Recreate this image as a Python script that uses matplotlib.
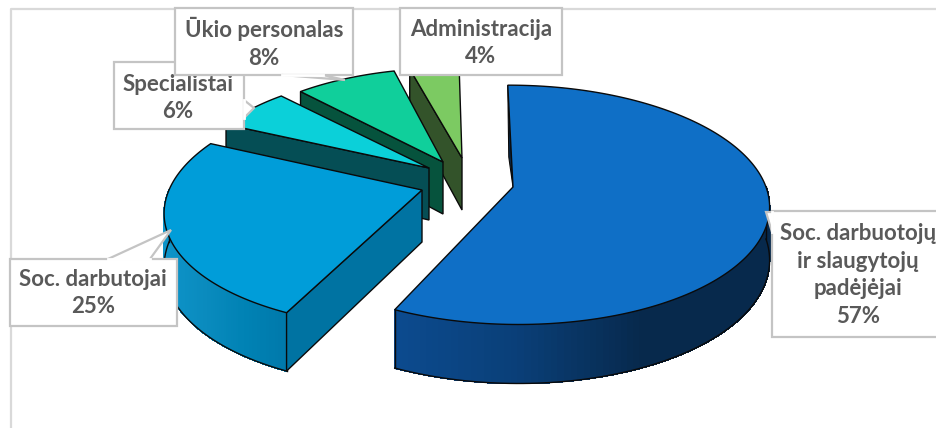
#!/usr/bin/env python

"""Exploded 3D pie chart with callout labels, projected by hand to pixels"""
import matplotlib
# Removes dependency on graphical system
matplotlib.use('Agg')
import matplotlib.pyplot as plt
import matplotlib.colors as mcolors
from matplotlib.patches import Polygon
import numpy as np

plt.rcParams['font.family'] = ['Lato', 'DejaVu Sans']

categories = ['Soc. darbuotojų\nir slaugytojų\npadėjėjai', 'Soc. darbutojai',
              'Specialistai', 'Ūkio personalas', 'Administracija']
values = [57, 25, 6, 8, 4]

top_colors = ['#0F6FC6', '#009DD9', '#0BD0D9', '#10CF9B', '#7CCA62']
wall_colors = ['#07284A', '#0073A2', '#054E55', '#06533D', '#33532A']
# Outer wall colour from left to right (position 0 to 1 along the visible wall)
outer_ramps = [['#0C4B8F', '#0A3F78', '#07294C', '#07294C'],
               ['#0D94C9', '#0A8BBE', '#0082B4', '#0079AB'],
               ['#054E55'] * 4, ['#06533D'] * 4, ['#33532A'] * 4]

# Layout, in pixels of the 936x428 picture
apexes = [(513, 187), (422, 190), (429, 168), (443, 162), (462, 158)]
radius_scale = [1.0, 1.0, 0.94, 0.92, 0.9]
shear = [-0.04, 0.1, 0.0, 0.03, -0.02]
boxes = [(772, 211, 190, 126), (10, 259, 167, 67), (114, 62, 130, 67),
         (175, 8, 178, 67), (400, 8, 162, 67)]
label_x = [858, 93, 178, 264, 481]
label_y = [275, 293, 98, 43, 43]
# Callout tails: where they leave the box and where the tip is
tails = [[(772, 232), (766, 212), (772, 212)],
         [(108, 259), (171, 230), (150, 259)],
         [(244, 100), (254, 108), (244, 118)],
         [(282, 75), (345, 80), (323, 75)],
         None]
draw_order = [4, 3, 2, 1, 0]

START_ANGLE = -0.3
RADIUS_X = 253
RADIUS_Y = 117
PERSPECTIVE = 0.149
DEPTH = 52
DEPTH_NEAR = 7
EDGE = '#0a0a0a'
BOX_EDGE = '#C4C4C4'
TEXT = '#595959'


def project(index, degrees):
    """Rim point(s) of one slice for pie angles, clockwise from the top"""
    t = np.radians(degrees)
    denom = 1 + PERSPECTIVE * np.cos(t)
    up = RADIUS_Y * np.cos(t) / denom * radius_scale[index]
    x = RADIUS_X * np.sin(t) / denom * radius_scale[index] + shear[index] * up
    return apexes[index][0] + x, apexes[index][1] - up


def depth_at(degrees):
    """Wall height, a little taller towards the viewer"""
    return DEPTH - DEPTH_NEAR * np.cos(np.radians(degrees))


def ramp_color(ramp, position):
    """Interpolate along a list of colours, position in 0..1"""
    rgb = np.array([mcolors.to_rgb(c) for c in ramp])
    stops = np.linspace(0, 1, len(ramp))
    return [np.interp(position, stops, rgb[:, i]) for i in range(3)]


def draw_slice(ax, i, start, end):
    apex_x, apex_y = apexes[i]

    # Outer wall, only the part that faces the viewer
    lo, hi = max(start, 90), min(end, 270)
    if lo < hi:
        angles = np.linspace(lo, hi, 90)
        x, y = project(i, angles)
        low = y + depth_at(angles)
        span = x.max() - x.min()
        for k in range(len(angles) - 1):
            color = ramp_color(outer_ramps[i], (x[k] - x.min()) / span)
            # no antialiasing, otherwise the seams between strips show up
            ax.add_patch(Polygon([(x[k], y[k]), (x[k + 1], y[k + 1]),
                                  (x[k + 1], low[k + 1]), (x[k], low[k])],
                                 facecolor=color, edgecolor=color, lw=0.6,
                                 antialiased=False, zorder=1))
        ax.plot(x, low, color=EDGE, lw=1, zorder=1)
        ax.plot([x[0], x[0]], [y[0], low[0]], color=EDGE, lw=1, zorder=1)
        ax.plot([x[-1], x[-1]], [y[-1], low[-1]], color=EDGE, lw=1, zorder=1)

    # Wall along the starting cut, seen on every slice but the biggest
    rim_x, rim_y = project(i, start)
    if i > 0:
        ax.add_patch(Polygon([(apex_x, apex_y), (rim_x, rim_y),
                              (rim_x, rim_y + depth_at(start)),
                              (apex_x, apex_y + DEPTH)],
                             facecolor=wall_colors[i], edgecolor=EDGE, lw=1, zorder=1))
    else:
        ax.add_patch(Polygon([(rim_x, rim_y), (apex_x, apex_y),
                              (rim_x + 1, apex_y - 30)],
                             facecolor=wall_colors[i], edgecolor=EDGE, lw=0.8, zorder=1))

    # Top surface
    angles = np.linspace(start, end, 200)
    x, y = project(i, angles)
    points = [(apex_x, apex_y)] + list(zip(x, y))
    ax.add_patch(Polygon(points, facecolor=top_colors[i], edgecolor=EDGE, lw=1, zorder=1))


def draw_label(ax, i, order):
    left, top, width, height = boxes[i]
    corners = [(left, top), (left + width, top), (left + width, top + height), (left, top + height)]
    z = 3 + order
    ax.add_patch(Polygon(corners, facecolor='white', edgecolor=BOX_EDGE, lw=1.6, zorder=z))
    if tails[i] is not None:
        ax.add_patch(Polygon(tails[i], closed=False, facecolor='white', edgecolor=BOX_EDGE,
                             lw=1.6, zorder=z + 0.1))
        # Hide the box border under the mouth of the tail
        ax.plot([tails[i][0][0], tails[i][2][0]], [tails[i][0][1], tails[i][2][1]],
                color='white', lw=2, zorder=z + 0.2)
    ax.text(label_x[i], label_y[i], '%s\n%d%%' % (categories[i], values[i]), color=TEXT,
            fontsize=16, fontweight='bold', ha='center', va='center', linespacing=1.4,
            zorder=z + 0.3)


def main():
    fig = plt.figure(figsize=(9.36, 4.28), dpi=100)
    ax = fig.add_axes([0, 0, 1, 1])
    ax.set_xlim(0, 936)
    ax.set_ylim(428, 0)
    ax.axis('off')

    # Chart frame
    ax.plot([10.5, 10.5, 936], [428, 8.5, 8.5], color='#D9D9D9', lw=1.6, zorder=0)

    ends = START_ANGLE + np.cumsum(values) / np.sum(values) * 360
    starts = np.concatenate(([START_ANGLE], ends[:-1]))
    for i in draw_order:
        draw_slice(ax, i, starts[i], ends[i])

    # Specialistai sits under Ukio personalas
    for order, i in enumerate([0, 1, 2, 3, 4]):
        draw_label(ax, i, order)

    fig.savefig('out.png', dpi=100)


if __name__ == "__main__":
    main()
